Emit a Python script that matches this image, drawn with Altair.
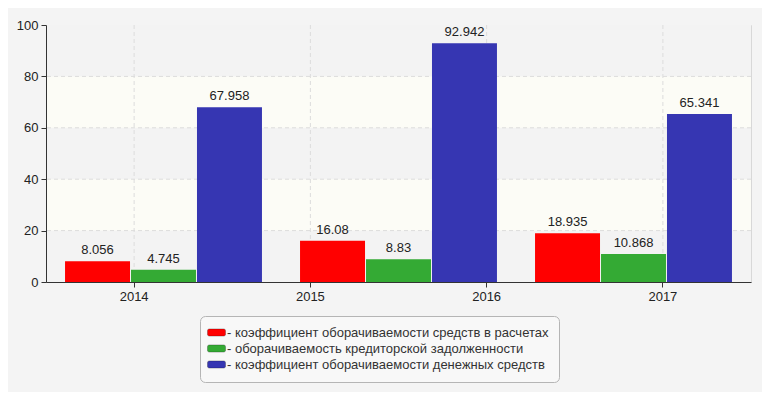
import altair as alt
import pandas as pd

# ---- data ----
years = ["2014", "2015", "2016", "2017"]          # axis tick labels
groups = [1, 2, 3]                                 # bar groups as drawn
series = [
    "коэффициент оборачиваемости средств в расчетах",
    "оборачиваемость кредиторской задолженности",
    "коэффициент оборачиваемости денежных средств",
]
receivables_turnover = [8.056, 16.08, 18.935]
payables_turnover = [4.745, 8.83, 10.868]
cash_turnover = [67.958, 92.942, 65.341]
labels = ["8.056", "16.08", "18.935", "4.745", "8.83", "10.868", "67.958", "92.942", "65.341"]

y_ticks = [0, 20, 40, 60, 80, 100]
grid_y = [20, 40, 60, 80]
hatch_lo = [0, 40, 80]
hatch_hi = [20, 60, 100]

colors = ["#ff0000", "#34aa34", "#3636b2"]
FONT = "Arial, Liberation Sans, sans-serif"
FS = 13

rows = []
i = 0
for s, vals in zip(series, [receivables_turnover, payables_turnover, cash_turnover]):
    for g, v in zip(groups, vals):
        rows.append({"group": g, "series": s, "value": v, "label": labels[i]})
        i += 1
df = pd.DataFrame(rows)
bands_df = pd.DataFrame({"lo": hatch_lo, "hi": hatch_hi})
grid_df = pd.DataFrame({"y": grid_y})
years_df = pd.DataFrame({"year": years})

yscale = alt.Scale(domain=[0, 100], nice=False)
yaxis = alt.Axis(
    title=None, values=y_ticks, grid=False, zindex=1,
    domainColor="#333333", tickColor="#333333", tickSize=5,
    labelFontSize=FS, labelColor="#222222", labelFont=FONT, labelPadding=3,
)

bands = alt.Chart(bands_df).mark_rect(color="#f3f3f3").encode(
    y=alt.Y("lo:Q", scale=yscale, axis=yaxis, title=None),
    y2="hi:Q",
)

hgrid = alt.Chart(grid_df).mark_rule(color="#dcdcdc", strokeDash=[4, 3], strokeWidth=1).encode(
    y=alt.Y("y:Q", scale=yscale, axis=yaxis, title=None),
)

vgrid = alt.Chart(years_df).mark_rule(color="#dcdcdc", strokeDash=[4, 3], strokeWidth=1).encode(
    x=alt.X(
        "year:O",
        scale=alt.Scale(type="band", paddingInner=0, paddingOuter=0),
        axis=alt.Axis(
            title=None, labelAngle=0, domainColor="#333333", tickColor="#333333",
            tickSize=5, labelFontSize=FS, labelColor="#222222", labelFont=FONT,
            labelPadding=3, grid=False, zindex=1,
        ),
    ),
)

xg = alt.X("group:O", scale=alt.Scale(paddingInner=0.162, paddingOuter=0.081), axis=None)
xo = alt.XOffset("series:N", sort=series, scale=alt.Scale(paddingInner=0.015))

legend_symbol = (
    "M-1.2,-0.6 L1.2,-0.6 Q1.5,-0.6 1.5,-0.3 L1.5,0.3 Q1.5,0.6 1.2,0.6 "
    "L-1.2,0.6 Q-1.5,0.6 -1.5,0.3 L-1.5,-0.3 Q-1.5,-0.6 -1.2,-0.6 Z"
)

bars = alt.Chart(df).mark_bar().encode(
    x=xg,
    xOffset=xo,
    y=alt.Y("value:Q", scale=yscale, axis=yaxis, title=None),
    color=alt.Color(
        "series:N", sort=series,
        scale=alt.Scale(domain=series, range=colors),
        legend=alt.Legend(
            title=None, orient="none", legendX=154, legendY=291, direction="vertical",
            symbolType=legend_symbol, symbolSize=144,
            symbolStrokeWidth=1, symbolStrokeColor="rgba(0,0,0,0.25)",
            labelFontSize=FS, labelColor="#333333", labelFont=FONT,
            labelExpr="'- ' + datum.label", labelLimit=500, labelOffset=4,
            rowPadding=2, padding=10, strokeColor="#b5b5b5", fillColor="#f8f8f8",
            cornerRadius=5,
        ),
    ),
)

text = alt.Chart(df).mark_text(
    dy=-7, baseline="alphabetic", fontSize=FS, color="#222222", font=FONT
).encode(
    x=xg,
    xOffset=xo,
    y=alt.Y("value:Q", scale=yscale, axis=yaxis, title=None),
    text="label:N",
)

chart = alt.layer(
    bands, hgrid, vgrid, alt.layer(bars, text)
).resolve_scale(x="independent").properties(
    width=705, height=257,
    autosize=alt.AutoSizeParams(type="none"),
    padding={"left": 38, "top": 17, "right": 11, "bottom": 110},
    background="#f4f4f4",
).configure_view(
    fill="#fcfcf6", stroke="#d8d8d8", strokeWidth=1,
)

chart.save("out.html", embed_options={"renderer": "svg", "actions": False})
